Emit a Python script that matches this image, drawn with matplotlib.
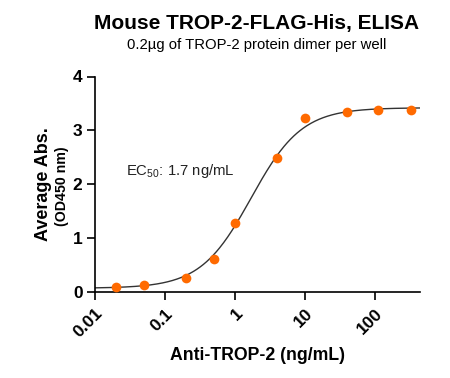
import numpy as np
import matplotlib
matplotlib.use("Agg")
import matplotlib.pyplot as plt

plt.rcParams['font.family'] = ['Liberation Sans', 'DejaVu Sans']
plt.rcParams['mathtext.fontset'] = 'custom'
plt.rcParams['mathtext.rm'] = 'Liberation Sans'
plt.rcParams['mathtext.it'] = 'Liberation Sans:italic'
plt.rcParams['mathtext.bf'] = 'Liberation Sans:bold'

# Data
concentration = [0.02, 0.05, 0.2, 0.5, 1.0, 4.0, 10.0, 40.0, 110.0, 330.0]
absorbance = [0.085, 0.13, 0.26, 0.61, 1.29, 2.49, 3.23, 3.35, 3.38, 3.38]
# 4PL fit parameters
fit_bottom = 0.07
fit_top = 3.42
fit_ec50 = 1.7
fit_hill = 1.2
x_ticks = [0.01, 0.1, 1, 10, 100]
x_tick_labels = ["0.01", "0.1", "1", "10", "100"]
y_ticks = [0, 1, 2, 3, 4]

fig = plt.figure(figsize=(4.5, 3.78), dpi=100)
ax = fig.add_axes([95/450, 1-292/378, (420-95)/450, (292-76.5)/378])

xs = np.logspace(-2, np.log10(440), 400)
ys = fit_bottom + (fit_top - fit_bottom) / (1 + (fit_ec50 / xs) ** fit_hill)
ax.plot(xs, ys, color='#333333', lw=1.0, zorder=2)
ax.plot(concentration, absorbance, 'o', color='#FF6A00', ms=7, mec='none', zorder=3, clip_on=False)

ax.set_xscale('log')
ax.set_xlim(0.01, 440)
ax.set_ylim(0, 4)
ax.set_xticks(x_ticks)
ax.set_xticklabels(x_tick_labels)
ax.minorticks_off()
ax.set_yticks(y_ticks)
for s in ['top', 'right']:
    ax.spines[s].set_visible(False)
for s in ['left', 'bottom']:
    ax.spines[s].set_linewidth(1.2)
ax.tick_params(axis='both', length=6, width=1.2, labelsize=12.5)
ax.tick_params(axis='x', pad=4)
ax.tick_params(axis='y', pad=3)
for lab in ax.get_xticklabels():
    lab.set_rotation(45)
    lab.set_ha('right')
    lab.set_rotation_mode('anchor')
    lab.set_fontweight('bold')
for lab in ax.get_yticklabels():
    lab.set_fontweight('bold')

ax.text(0.01 * 10**0.44, 2.25, r"EC$_{50}$: 1.7 ng/mL", fontsize=10.7, color='#222222', va='center')

fig.text(257/450, 1-23/378, "Mouse TROP-2-FLAG-His, ELISA", ha='center', va='center',
         fontsize=15, fontweight='bold')
fig.text(257/450, 1-45/378, "0.2µg of TROP-2 protein dimer per well", ha='center', va='center',
         fontsize=10.7)
fig.text(257/450, 1-355/378, "Anti-TROP-2 (ng/mL)", ha='center', va='center',
         fontsize=12.7, fontweight='bold')
fig.text(43/450, 1-184/378, "Average Abs.", ha='center', va='center', rotation=90,
         fontsize=13, fontweight='bold')
fig.text(62/450, 1-186/378, "(OD450 nm)", ha='center', va='center', rotation=90,
         fontsize=10.2, fontweight='bold')

fig.savefig("out.png", dpi=100)
